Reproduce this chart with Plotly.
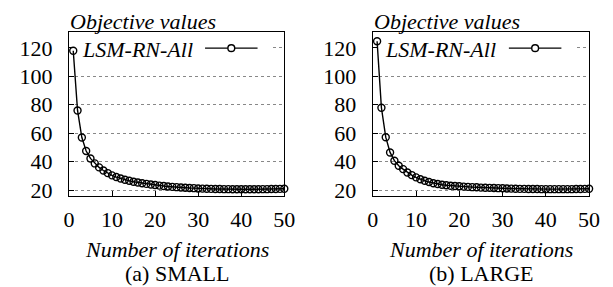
import plotly.graph_objects as go

iterations = list(range(1, 51))
small_values = [118, 76, 57, 47.5, 42.3, 38.8, 36, 33.8, 32, 30.4,
                29.2, 28.2, 27.3, 26.6, 25.9, 25.4, 24.9, 24.4, 24.0, 23.6,
                23.2, 22.9, 22.6, 22.3, 22.1, 21.9, 21.7, 21.5, 21.4, 21.2,
                21.1, 21.0, 20.9, 20.8, 20.8, 20.7, 20.7, 20.6, 20.6, 20.6,
                20.6, 20.6, 20.6, 20.6, 20.7, 20.7, 20.8, 20.8, 20.9, 21.0]
large_values = [124.6, 77.9, 57.2, 46.5, 40.7, 37.2, 34.8, 32.4, 30.6, 29.0,
                27.7, 26.6, 25.7, 24.9, 24.3, 23.8, 23.4, 23.1, 22.9, 22.7,
                22.5, 22.3, 22.1, 22.0, 21.8, 21.7, 21.6, 21.5, 21.4, 21.3,
                21.2, 21.1, 21.0, 20.9, 20.9, 20.8, 20.8, 20.8, 20.7, 20.7,
                20.7, 20.7, 20.7, 20.7, 20.7, 20.7, 20.8, 20.8, 20.9, 21.0]
x_ticks = [0, 10, 20, 30, 40, 50]
y_ticks = [20, 40, 60, 80, 100, 120]
series_name = "LSM-RN-All"
y_title = "Objective values"
x_title = "Number of iterations"
captions = ["(a) SMALL", "(b) LARGE"]

W, H = 613, 287
FONT = "Liberation Serif"
FS = 22
XR = [0, 50]
YR = [15.7, 130.8]

def px(x):
    return x / W

def py(y):
    return 1 - y / H

panels = [
    dict(left=56.5, right=278, values=small_values, cap=captions[0]),
    dict(left=369, right=591.5, values=large_values, cap=captions[1]),
]
top, bottom = 25, 192.3

fig = go.Figure()
shapes = []
annotations = []
for i, p in enumerate(panels):
    n = "" if i == 0 else str(i + 1)
    xa = "x" + n
    ya = "y" + n
    fig.add_trace(go.Scatter(
        x=iterations, y=p["values"], mode="lines+markers",
        xaxis=xa, yaxis=ya, showlegend=False,
        line=dict(color="black", width=1.4),
        marker=dict(symbol="circle-open", size=7, color="black",
                    line=dict(width=1.4, color="black")),
        cliponaxis=False,
    ))
    common = dict(showline=True, mirror=True, linecolor="black", linewidth=1.2,
                  ticks="inside", ticklen=5, tickcolor="black", tickwidth=1,
                  tickfont=dict(family=FONT, size=FS, color="black"),
                  zeroline=False)
    fig.update_layout(**{
        ("xaxis" + n): dict(domain=[px(p["left"]), px(p["right"])], range=XR,
                            tickvals=x_ticks, showgrid=False, anchor=ya,
                            ticklabelstandoff=3, **common),
        ("yaxis" + n): dict(domain=[py(bottom), py(top)], range=YR,
                            tickvals=y_ticks, showgrid=True, gridcolor="#888888",
                            griddash="dot", gridwidth=1, anchor=xa,
                            ticklabelstandoff=11, **common),
    })
    cx = (p["left"] + p["right"]) / 2
    annotations += [
        dict(text="<i>" + y_title + "</i>", xref="paper", yref="paper",
             x=px(p["left"] - 1), y=py(14), xanchor="left", yanchor="middle",
             showarrow=False, font=dict(family=FONT, size=FS, color="black")),
        dict(text="<i>" + x_title + "</i>", xref="paper", yref="paper",
             x=px(cx), y=py(247), xanchor="center", yanchor="middle",
             showarrow=False, font=dict(family=FONT, size=FS, color="black")),
        dict(text=p["cap"], xref="paper", yref="paper",
             x=px(cx), y=py(271), xanchor="center", yanchor="middle",
             showarrow=False, font=dict(family=FONT, size=FS, color="black")),
        dict(text="<i>" + series_name + "</i>", xref="paper", yref="paper",
             x=px(p["left"] + 11), y=py(42), xanchor="left", yanchor="middle",
             showarrow=False, font=dict(family=FONT, size=FS, color="black")),
    ]
    wpx = p["right"] - p["left"]
    hpx = bottom - top
    def dx(pix):
        return XR[0] + pix / wpx * (XR[1] - XR[0])
    def dy(pix):
        return YR[1] - pix / hpx * (YR[1] - YR[0])
    shapes.append(dict(type="rect", xref=xa, yref=ya,
                       x0=dx(0.8), x1=dx(wpx - 14), y0=dy(30), y1=dy(5),
                       fillcolor="white", line=dict(width=0), layer="between"))
    lx0 = p["left"] + 140
    lx1 = p["left"] + 194
    shapes.append(dict(type="line", xref="paper", yref="paper",
                       x0=px(lx0), x1=px(lx1), y0=py(41), y1=py(41),
                       line=dict(color="black", width=1.4), layer="above"))
    mx = (lx0 + lx1) / 2
    r = 3.5
    shapes.append(dict(type="circle", xref="paper", yref="paper",
                       x0=px(mx - r), x1=px(mx + r), y0=py(41 + r), y1=py(41 - r),
                       fillcolor="white", line=dict(color="black", width=1.4),
                       layer="above"))

fig.update_layout(width=W, height=H, margin=dict(l=0, r=0, t=0, b=0),
                  paper_bgcolor="white", plot_bgcolor="white",
                  shapes=shapes, annotations=annotations,
                  font=dict(family=FONT, size=FS, color="black"))
fig.write_html("out.html")
